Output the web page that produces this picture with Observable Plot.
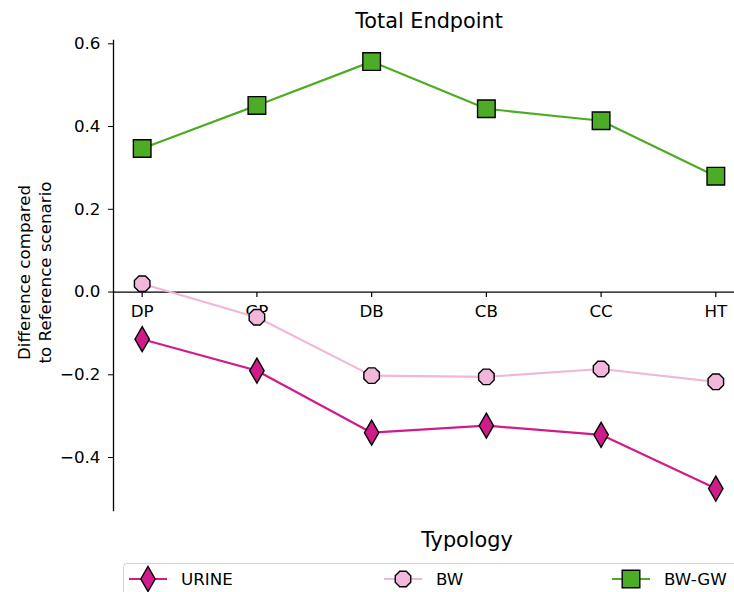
<!DOCTYPE html>
<html><head><meta charset="utf-8">
<script src="https://cdn.jsdelivr.net/npm/d3@7"></script>
<script src="https://cdn.jsdelivr.net/npm/@observablehq/plot@0.6"></script>
<style>
body{margin:0;background:#fff;font-family:"DejaVu Sans",sans-serif;}
#wrap{position:relative;width:734px;height:592px;overflow:hidden;background:#fff;}
#chart{position:absolute;left:0;top:0;}
#legend{position:absolute;left:123px;top:563px;width:640px;height:40px;border:1px solid #d4d4d4;border-radius:4px;background:#fff;}
</style></head><body>
<div id="wrap"><div id="chart"></div><div id="legend"></div></div>
<script>
// ---- data ----
const categories = ["DP", "GP", "DB", "CB", "CC", "HT"];
const seriesNames = ["URINE", "BW", "BW-GW"];
const urine = [-0.114, -0.190, -0.340, -0.323, -0.345, -0.475];
const bw    = [0.020, -0.061, -0.202, -0.205, -0.186, -0.217];
const bwgw  = [0.347, 0.451, 0.557, 0.443, 0.414, 0.280];
const yTicks = [-0.4, -0.2, 0.0, 0.2, 0.4, 0.6];
const colors = ["#d01c8b", "#f1b6da", "#4dac26"];

// ---- symbols ----
const thinDiamond = {draw(ctx) { ctx.moveTo(0, -12.5); ctx.lineTo(7.2, 0); ctx.lineTo(0, 12.5); ctx.lineTo(-7.2, 0); ctx.closePath(); }};
const octagon = {draw(ctx) {
  const r = 8.4;
  for (let k = 0; k < 8; k++) {
    const a = (22.5 + 45 * k) * Math.PI / 180;
    const px = r * Math.cos(a), py = r * Math.sin(a);
    if (k === 0) ctx.moveTo(px, py); else ctx.lineTo(px, py);
  }
  ctx.closePath();
}};
const square = {draw(ctx) { const s = 8.8; ctx.moveTo(-s, -s); ctx.lineTo(s, -s); ctx.lineTo(s, s); ctx.lineTo(-s, s); ctx.closePath(); }};
const tickDown = {draw(ctx) { ctx.moveTo(0, 0); ctx.lineTo(0, 5); }};
const symbols = [thinDiamond, octagon, square];

const seriesValues = [urine, bw, bwgw];
const rows = [];
seriesValues.forEach((vals, s) => vals.forEach((v, i) => rows.push({series: seriesNames[s], i, cat: categories[i], value: v})));
const catRows = categories.map((c, i) => ({cat: c, i}));

const fmt = d => (Math.abs(d) < 1e-9 ? "0.0" : d.toFixed(1).replace("-", "\u2212"));

const marks = [
  Plot.frame({anchor: "left", stroke: "black", strokeWidth: 1.3}),
  Plot.ruleY([0], {stroke: "black", strokeWidth: 1.3}),
  Plot.axisY({ticks: yTicks, tickSize: 5, tickPadding: 8, tickFormat: fmt, label: null, stroke: "black", fill: "black"}),
  Plot.dot(catRows, {x: "i", y: () => 0, symbol: () => tickDown, stroke: "black", strokeWidth: 1.2, fill: "none", r: 1}),
  Plot.text(catRows, {x: "i", y: () => 0, text: "cat", dy: 20, fill: "black"}),
];
seriesNames.forEach((name, s) => {
  const data = rows.filter(r => r.series === name);
  marks.push(Plot.line(data, {x: "i", y: "value", stroke: colors[s], strokeWidth: 2.2}));
});
seriesNames.forEach((name, s) => {
  const data = rows.filter(r => r.series === name);
  marks.push(Plot.dot(data, {x: "i", y: "value", symbol: () => symbols[s], fill: colors[s], stroke: "black", strokeWidth: 1.4, r: 5}));
});
marks.push(
  Plot.text(["Total Endpoint"], {frameAnchor: "top", lineAnchor: "middle", dy: -19, fontSize: 20.8, fill: "black"}),
  Plot.text(["Difference compared\nto Reference scenario"], {frameAnchor: "left", textAnchor: "middle", lineAnchor: "middle", dx: -80, dy: -3, rotate: -90, lineHeight: 1.3, fill: "black"}),
  Plot.text(["Typology"], {frameAnchor: "bottom", lineAnchor: "middle", dx: 38, dy: 30, fontSize: 20.8, fill: "black"})
);

const chart = Plot.plot({
  width: 734,
  height: 560,
  marginLeft: 113,
  marginRight: -10,
  marginTop: 40,
  marginBottom: 50,
  style: {fontFamily: "DejaVu Sans", fontSize: "16.7px", background: "white", overflow: "hidden"},
  x: {domain: [-0.25, 5.25], axis: null},
  y: {domain: [-0.528, 0.608], axis: null},
  marks
});
document.getElementById("chart").appendChild(chart);

// ---- legend ----
const legend = d3.select("#legend").append("svg").attr("width", 640).attr("height", 40)
  .style("font-family", "DejaVu Sans");
const legendX = [24, 279, 507];
seriesNames.forEach((name, s) => {
  const g = legend.append("g").attr("transform", `translate(${legendX[s]},15)`);
  g.append("line").attr("x1", -19).attr("x2", 19).attr("y1", 0).attr("y2", 0)
    .attr("stroke", colors[s]).attr("stroke-width", 2.2);
  const p = d3.path(); symbols[s].draw(p);
  g.append("path").attr("d", p.toString()).attr("fill", colors[s]).attr("stroke", "black").attr("stroke-width", 1.4);
  g.append("text").attr("x", 33).attr("y", 0).attr("dy", "0.35em").attr("font-size", 16.7).attr("fill", "black").text(name);
});
</script>
</body></html>
